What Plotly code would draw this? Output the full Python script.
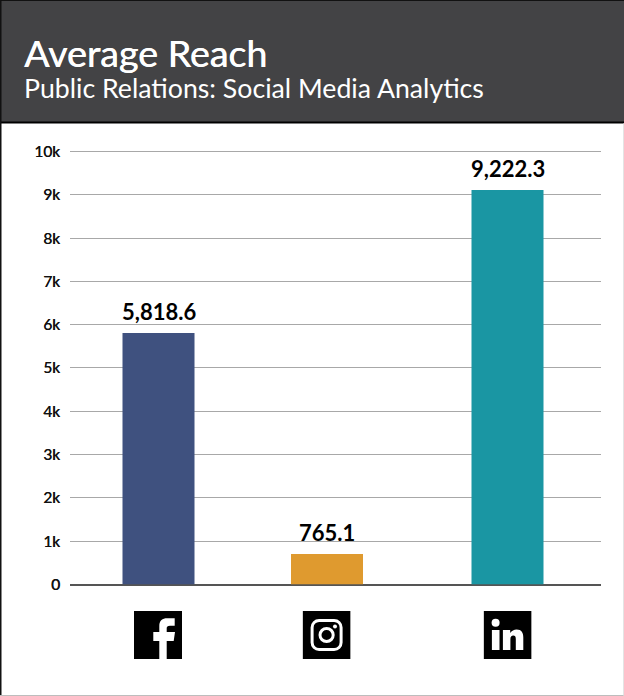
import base64
import plotly.graph_objects as go

categories = ["Facebook", "Instagram", "LinkedIn"]
drawn_reach = [5810, 705, 9110]
reach_labels = ["5,818.6", "765.1", "9,222.3"]
tick_values = [0, 1000, 2000, 3000, 4000, 5000, 6000, 7000, 8000, 9000, 10000]
tick_labels = ["0", "1k", "2k", "3k", "4k", "5k", "6k", "7k", "8k", "9k", "10k"]
title_text = "Average Reach"
subtitle_text = "Public Relations: Social Media Analytics"

W, H = 624, 696
FONT = "Lato"
SLOT = 177
BAR_W = 72
bar_colors = ["#3F517F", "#DF9A2F", "#1A96A3"]
bar_shift = [0, -8.5, -5]   # horizontal nudge of each bar, px

ICONS = {
    "fb": '<path fill="#fff" d="M25.3 48V30H19.3V21H25.3V15C25.3 9.5 28.5 7.3 33 7.3H40.7V14.7H36C33.5 14.7 32.7 15.5 32.7 17.5V21H41L39.7 30H32.7V48Z"/>',
    "ig": '<rect x="9.5" y="9.5" width="29" height="29" rx="7" fill="none" stroke="#fff" stroke-width="3"/>'
          '<circle cx="24" cy="24" r="6.6" fill="none" stroke="#fff" stroke-width="3"/>'
          '<circle cx="32.4" cy="15.6" r="2" fill="#fff"/>',
    "li": '<circle cx="12" cy="11.7" r="4" fill="#fff"/><rect x="8.3" y="19" width="7.6" height="20" fill="#fff"/>'
          '<path fill="#fff" d="M19.3 19H26.6V22C28 20 30.4 18.5 33 18.5C38 18.5 39.7 21.8 39.7 26.5V39H32.2V28C32.2 25.5 31.3 24.6 29.7 24.6C27.8 24.6 26.8 26 26.8 28.2V39H19.3Z"/>',
}
icon_left = {"fb": 134, "ig": 302.6, "li": 483.6}


def icon_uri(body):
    svg = f'<svg xmlns="http://www.w3.org/2000/svg" width="48" height="48" viewBox="0 0 48 48"><rect width="48" height="48" fill="#000"/>{body}</svg>'
    return "data:image/svg+xml;base64," + base64.b64encode(svg.encode()).decode()


fig = go.Figure(
    go.Bar(
        x=categories,
        y=drawn_reach,
        width=BAR_W / SLOT,
        offset=[(s - BAR_W / 2) / SLOT for s in bar_shift],
        marker=dict(color=bar_colors, line=dict(width=0)),
        hoverinfo="skip",
    )
)

for cat, val, lab, s in zip(categories, drawn_reach, reach_labels, bar_shift):
    fig.add_annotation(x=cat, y=val, text=f"<b>{lab}</b>", showarrow=False, xshift=s, yshift=6,
                       yanchor="bottom", font=dict(family=FONT, size=22, color="#000"))

fig.add_annotation(xref="paper", yref="paper", x=21.5 / W, y=1 - 52.5 / H, text=title_text, showarrow=False,
                   xanchor="left", yanchor="middle",
                   font=dict(family=FONT, size=37.6, color="#fff", shadow="0.6px 0 0 #fff"))
fig.add_annotation(xref="paper", yref="paper", x=21.5 / W, y=1 - 88 / H, text=subtitle_text, showarrow=False,
                   xanchor="left", yanchor="middle", font=dict(family=FONT, size=26.7, color="#fff"))

fig.add_shape(type="rect", xref="paper", yref="paper", x0=0.5 / W, x1=1, y0=1 - 122 / H, y1=1 - 1 / H,
              fillcolor="#434345", line=dict(width=0), layer="below")
fig.add_shape(type="line", xref="paper", yref="paper", x0=0, x1=1, y0=1 - 122.5 / H, y1=1 - 122.5 / H,
              line=dict(color="#000", width=2), layer="below")
fig.add_shape(type="line", xref="paper", yref="paper", x0=0, x1=1, y0=1 - 0.5 / H, y1=1 - 0.5 / H,
              line=dict(color="#111", width=1), layer="below")
fig.add_shape(type="line", xref="paper", yref="paper", x0=0.75 / W, x1=0.75 / W, y0=1 - 695.5 / H, y1=1,
              line=dict(color="#111", width=1.5), layer="below")
fig.add_shape(type="line", xref="paper", yref="paper", x0=0, x1=1, y0=1 - 695.5 / H, y1=1 - 695.5 / H,
              line=dict(color="#bdbdbd", width=1), layer="below")
fig.add_shape(type="line", xref="paper", yref="paper", x0=1 - 0.5 / W, x1=1 - 0.5 / W, y0=1 - 695.5 / H, y1=1 - 123.5 / H,
              line=dict(color="#e4e4e4", width=1), layer="below")

for key, left in icon_left.items():
    fig.add_layout_image(source=icon_uri(ICONS[key]), xref="paper", yref="paper", x=left / W, y=1 - 611 / H,
                         sizex=48 / W, sizey=48 / H, xanchor="left", yanchor="top", sizing="stretch", layer="above")

fig.update_layout(
    width=W, height=H, margin=dict(l=0, r=0, t=0, b=0), showlegend=False,
    paper_bgcolor="#fff", plot_bgcolor="#fff", font=dict(family=FONT),
    xaxis=dict(domain=[70 / W, 601 / W], range=[-0.5, 2.5], type="category", categoryorder="array",
               categoryarray=categories, showticklabels=False, showgrid=False, zeroline=False, showline=False,
               automargin=False),
    yaxis=dict(domain=[1 - 584.5 / H, 1 - 149.335 / H], range=[0, 10050], tickvals=tick_values, ticktext=tick_labels,
               tickfont=dict(family=FONT, size=15.5, color="#111", shadow="0.4px 0 0 #111"), showgrid=True,
               gridcolor="#a8a8a8", gridwidth=1,
               zeroline=True, zerolinecolor="#555", zerolinewidth=1.5, ticks="", ticklabelstandoff=9,
               automargin=False),
)

fig.write_html("out.html", config={"displayModeBar": False},
               post_script="document.body.style.margin='0';")
